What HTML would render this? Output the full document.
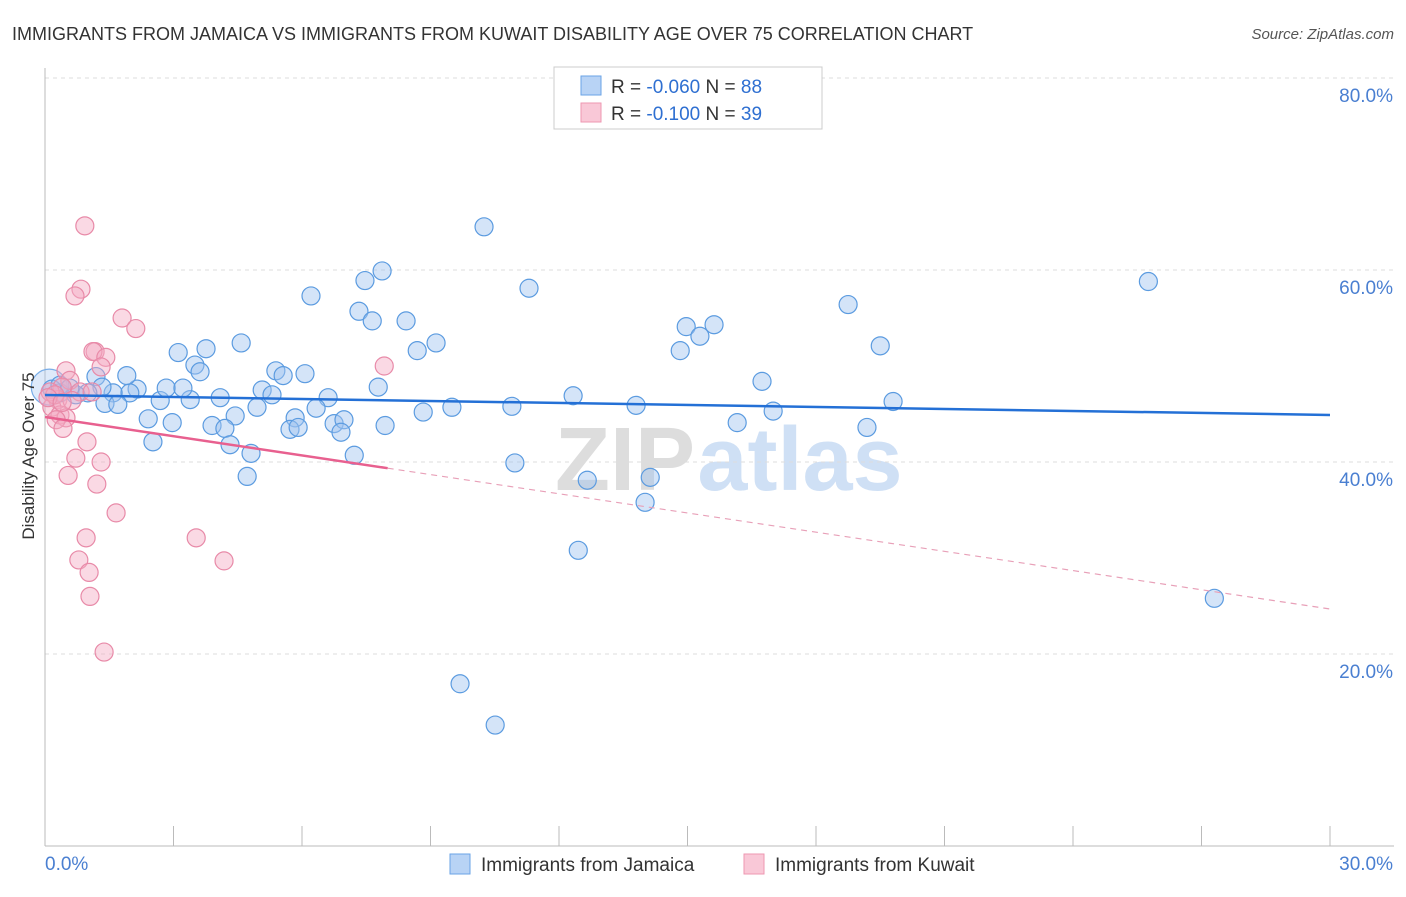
<!DOCTYPE html>
<html><head><meta charset="utf-8"><style>
body{margin:0;background:#fff;font-family:"Liberation Sans",sans-serif}
svg text{font-family:"Liberation Sans",sans-serif}
</style></head><body>
<svg id="chart" width="1406" height="892" xmlns="http://www.w3.org/2000/svg">
<text x="12" y="40" font-size="18" fill="#333">IMMIGRANTS FROM JAMAICA VS IMMIGRANTS FROM KUWAIT DISABILITY AGE OVER 75 CORRELATION CHART</text>
<text x="1394" y="39" font-size="15" fill="#555" text-anchor="end" font-style="italic">Source: ZipAtlas.com</text>
<g font-size="90" text-anchor="middle">
<text x="625" y="490" fill="#ddd" font-family="Liberation Serif" font-weight="bold">ZIP</text>
<text x="800" y="490" fill="#cfe0f5" font-weight="bold">atlas</text></g>
<g id="grid"></g><g id="axes"></g>
<g id="trend"></g><g id="points"></g>
<text transform="translate(34,456) rotate(-90)" font-size="17" fill="#333" text-anchor="middle">Disability Age Over 75</text>
<g>
<rect x="554" y="67" width="268" height="62" fill="#fff" stroke="#ccc"/>
<rect x="581" y="76" width="20" height="19" fill="#b8d3f5" stroke="#6aa3e6"/>
<rect x="581" y="103" width="20" height="19" fill="#f9c8d7" stroke="#ee97b2"/>
<text x="611" y="93" font-size="19" fill="#333">R = <tspan fill="#2e6fd1">-0.060</tspan>   N = <tspan fill="#2e6fd1">88</tspan></text>
<text x="611" y="120" font-size="19" fill="#333">R =  <tspan fill="#2e6fd1">-0.100</tspan>   N = <tspan fill="#2e6fd1">39</tspan></text>
</g>
<g>
<rect x="450" y="854" width="20" height="20" fill="#b8d3f5" stroke="#6aa3e6"/>
<text x="481" y="871" font-size="19" fill="#333">Immigrants from Jamaica</text>
<rect x="744" y="854" width="20" height="20" fill="#f9c8d7" stroke="#ee97b2"/>
<text x="775" y="871" font-size="19" fill="#333">Immigrants from Kuwait</text>
</g>
</svg>
<script>
const yTicks=[20,40,60,80];
const yTickLabels=["20.0%","40.0%","60.0%","80.0%"];
const xTickLabels=["0.0%","30.0%"];
const jamaicaX=[10.25,7.87,7.47,6.21,11.30,7.33,7.64,8.43,9.13,8.69,4.58,3.76,3.11,3.50,3.62,5.39,5.56,6.07,25.76,18.75,19.50,15.62,14.97,15.29,14.83,16.74,7.78,6.61,5.07,4.95,6.33,5.30,4.09,3.39,2.69,2.83,3.22,2.15,1.98,1.59,1.40,1.70,1.91,1.19,1.33,1.00,0.72,0.35,0.16,4.44,3.90,4.20,2.41,2.97,2.52,4.32,4.81,4.72,5.84,5.72,5.91,6.75,6.98,6.91,7.94,7.22,8.83,9.50,10.90,12.33,13.80,16.16,17.00,19.80,19.19,10.97,12.66,14.13,14.01,12.45,27.30,9.69,10.51,0.35,0.58];
const jamaicaY=[64.5,59.9,58.9,57.3,58.1,55.7,54.7,54.7,52.4,51.6,52.4,51.8,51.4,50.1,49.4,49.5,49.0,49.2,58.8,56.4,52.1,54.3,54.1,53.1,51.6,48.4,47.8,46.7,47.5,45.7,45.6,47.0,46.7,46.5,46.4,47.7,47.7,47.6,47.2,47.2,46.1,46.0,49.0,48.9,47.8,47.2,47.0,47.2,47.6,44.8,43.8,43.5,44.5,44.1,42.1,41.8,40.9,38.5,44.6,43.4,43.6,44.0,44.4,43.1,43.8,40.7,45.2,45.7,45.8,46.9,45.9,44.1,45.3,46.3,43.6,39.9,38.1,38.4,35.8,30.8,25.8,16.9,12.6,48.0,47.7];
const kuwaitX=[0.93,0.84,0.70,1.80,2.12,1.17,1.12,1.42,1.31,7.92,0.49,0.58,0.40,0.82,1.10,0.30,0.63,0.16,0.35,0.49,0.26,0.42,0.98,0.72,1.31,0.54,1.21,1.66,0.96,3.53,0.79,4.18,1.03,1.05,1.38,0.12,0.23,0.07,0.40];
const kuwaitY=[64.6,58.0,57.3,55.0,53.9,51.5,51.5,50.9,49.9,50.0,49.5,48.5,47.8,47.3,47.3,46.5,46.4,45.7,44.9,44.6,44.4,43.5,42.1,40.4,40.0,38.6,37.7,34.7,32.1,32.1,29.8,29.7,28.5,26.0,20.2,47.3,47.0,46.7,46.2];
const jamaicaTrend=[46.98,44.9];
const kuwaitTrend=[44.69,24.69];
const kuwaitSolidEnd=8.0;
const NS="http://www.w3.org/2000/svg";
const X=v=>45+v/30*1285, Y=v=>846-v*9.6;
function mk(t,a,p){const e=document.createElementNS(NS,t);for(const k in a)e.setAttribute(k,a[k]);p.appendChild(e);return e;}
const grid=document.getElementById('grid'),axes=document.getElementById('axes'),pts=document.getElementById('points'),tr=document.getElementById('trend');
yTicks.forEach((t,i)=>{
 const l=mk('line',{x1:45,x2:1394,y1:Y(t),y2:Y(t),stroke:'#ddd','stroke-dasharray':'4,4'},grid);
 
 
 const tx=mk('text',{x:1393,y:Y(t)+24,'font-size':19,fill:'#4a7fd1','text-anchor':'end'},axes);
 tx.textContent=yTickLabels[i];
 
 
});
const tl=mk('line',{x1:45,x2:1394,y1:Y(80)+0,y2:Y(80),stroke:'#ddd','stroke-dasharray':'4,4'},grid);
const ax=mk('line',{x1:45,x2:45,y1:68,y2:846,stroke:'#bbb'},axes);


const bx=mk('line',{x1:45,x2:1394,y1:846,y2:846,stroke:'#bbb'},axes);


for(let i=0;i<=10;i++){const t=mk('line',{x1:X(i*3),x2:X(i*3),y1:826,y2:846,stroke:'#bbb'},axes);
 
 }
[[0,'start',45],[30,'end',1393]].forEach((d,i)=>{const t=mk('text',{x:d[2],y:870,'font-size':19,fill:'#4a7fd1','text-anchor':d[1]},axes);t.textContent=xTickLabels[i];
 
 });
function dot(x,y,r,f,s){const c=mk('circle',{cx:X(x),cy:Y(y),r:r,fill:f,stroke:s,'stroke-width':1.2},pts);return c;}
const bb=dot(0.1,47.8,18,'rgba(160,195,240,0.35)','#7aaee8');


jamaicaX.forEach((x,i)=>{const c=dot(x,jamaicaY[i],9,'rgba(160,195,240,0.45)','#5b9be0');
 
 });
kuwaitX.forEach((x,i)=>{const c=dot(x,kuwaitY[i],9,'rgba(245,170,195,0.45)','#e88aa8');
 
 });
const lb=mk('line',{x1:X(0),y1:Y(jamaicaTrend[0]),x2:X(30),y2:Y(jamaicaTrend[1]),stroke:'#2470d6','stroke-width':2.5},pts);


const ky=x=>kuwaitTrend[0]+(kuwaitTrend[1]-kuwaitTrend[0])*x/30;
const lp=mk('line',{x1:X(0),y1:Y(ky(0)),x2:X(kuwaitSolidEnd),y2:Y(ky(kuwaitSolidEnd)),stroke:'#e8608f','stroke-width':2.5},pts);


const ld=mk('line',{x1:X(kuwaitSolidEnd),y1:Y(ky(kuwaitSolidEnd)),x2:X(30),y2:Y(ky(30)),stroke:'#e8a0b8','stroke-width':1.2,'stroke-dasharray':'6,5'},pts);


</script>
</body></html>
